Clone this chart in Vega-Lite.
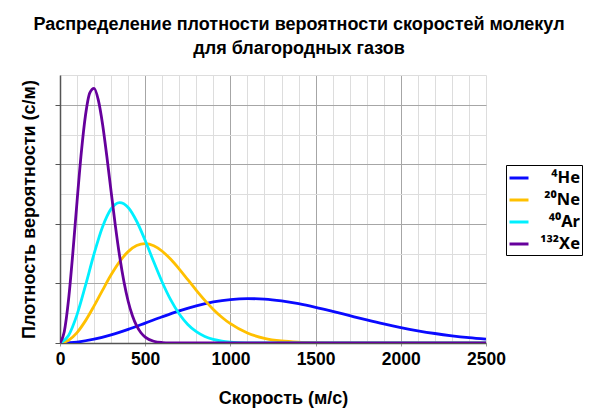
{
  "$schema": "https://vega.github.io/schema/vega-lite/v6.json",
  "autosize": {"type": "none"},
  "padding": {"left": 60, "top": 75, "right": 114, "bottom": 73},
  "width": 426,
  "height": 268,
  "title": {
    "text": ["Распределение плотности вероятности скоростей молекул", "для благородных газов"],
    "fontSize": 18,
    "fontWeight": "bold",
    "color": "black",
    "anchor": "middle",
    "dx": 26,
    "offset": 17,
    "lineHeight": 24
  },
  "config": {"font": "Liberation Sans", "view": {"stroke": null}},
  "data": {
    "values": [
      {"gas": "⁴He", "v": 0, "f": 0},
      {"gas": "⁴He", "v": 100, "f": 0.0000162},
      {"gas": "⁴He", "v": 200, "f": 0.0000633},
      {"gas": "⁴He", "v": 300, "f": 0.0001369},
      {"gas": "⁴He", "v": 400, "f": 0.0002300},
      {"gas": "⁴He", "v": 500, "f": 0.0003342},
      {"gas": "⁴He", "v": 600, "f": 0.0004404},
      {"gas": "⁴He", "v": 700, "f": 0.0005397},
      {"gas": "⁴He", "v": 800, "f": 0.0006246},
      {"gas": "⁴He", "v": 900, "f": 0.0006892},
      {"gas": "⁴He", "v": 1000, "f": 0.0007299},
      {"gas": "⁴He", "v": 1100, "f": 0.0007455},
      {"gas": "⁴He", "v": 1200, "f": 0.0007370},
      {"gas": "⁴He", "v": 1300, "f": 0.0007070},
      {"gas": "⁴He", "v": 1400, "f": 0.0006594},
      {"gas": "⁴He", "v": 1500, "f": 0.0005990},
      {"gas": "⁴He", "v": 1600, "f": 0.0005308},
      {"gas": "⁴He", "v": 1700, "f": 0.0004591},
      {"gas": "⁴He", "v": 1800, "f": 0.0003881},
      {"gas": "⁴He", "v": 1900, "f": 0.0003208},
      {"gas": "⁴He", "v": 2000, "f": 0.0002595},
      {"gas": "⁴He", "v": 2100, "f": 0.0002055},
      {"gas": "⁴He", "v": 2200, "f": 0.0001594},
      {"gas": "⁴He", "v": 2300, "f": 0.0001212},
      {"gas": "⁴He", "v": 2400, "f": 0.0000903},
      {"gas": "⁴He", "v": 2500, "f": 0.0000660},
      {"gas": "²⁰Ne", "v": 0, "f": 0},
      {"gas": "²⁰Ne", "v": 50, "f": 0.0000453},
      {"gas": "²⁰Ne", "v": 100, "f": 0.0001756},
      {"gas": "²⁰Ne", "v": 150, "f": 0.0003757},
      {"gas": "²⁰Ne", "v": 200, "f": 0.0006224},
      {"gas": "²⁰Ne", "v": 250, "f": 0.0008881},
      {"gas": "²⁰Ne", "v": 300, "f": 0.0011446},
      {"gas": "²⁰Ne", "v": 350, "f": 0.0013665},
      {"gas": "²⁰Ne", "v": 400, "f": 0.0015342},
      {"gas": "²⁰Ne", "v": 450, "f": 0.0016358},
      {"gas": "²⁰Ne", "v": 500, "f": 0.0016674},
      {"gas": "²⁰Ne", "v": 550, "f": 0.0016325},
      {"gas": "²⁰Ne", "v": 600, "f": 0.0015406},
      {"gas": "²⁰Ne", "v": 650, "f": 0.0014051},
      {"gas": "²⁰Ne", "v": 700, "f": 0.0012412},
      {"gas": "²⁰Ne", "v": 750, "f": 0.0010635},
      {"gas": "²⁰Ne", "v": 800, "f": 0.0008852},
      {"gas": "²⁰Ne", "v": 850, "f": 0.0007164},
      {"gas": "²⁰Ne", "v": 900, "f": 0.0005643},
      {"gas": "²⁰Ne", "v": 950, "f": 0.0004330},
      {"gas": "²⁰Ne", "v": 1000, "f": 0.0003237},
      {"gas": "²⁰Ne", "v": 1100, "f": 0.0001679},
      {"gas": "²⁰Ne", "v": 1200, "f": 0.0000790},
      {"gas": "²⁰Ne", "v": 1300, "f": 0.0000338},
      {"gas": "²⁰Ne", "v": 1400, "f": 0.0000132},
      {"gas": "²⁰Ne", "v": 1500, "f": 0.0000047},
      {"gas": "²⁰Ne", "v": 1600, "f": 0.0000015},
      {"gas": "²⁰Ne", "v": 1800, "f": 0.0000001},
      {"gas": "²⁰Ne", "v": 2000, "f": 0},
      {"gas": "²⁰Ne", "v": 2500, "f": 0},
      {"gas": "⁴⁰Ar", "v": 0, "f": 0},
      {"gas": "⁴⁰Ar", "v": 50, "f": 0.0001267},
      {"gas": "⁴⁰Ar", "v": 100, "f": 0.0004771},
      {"gas": "⁴⁰Ar", "v": 150, "f": 0.0009704},
      {"gas": "⁴⁰Ar", "v": 200, "f": 0.0014981},
      {"gas": "⁴⁰Ar", "v": 250, "f": 0.0019522},
      {"gas": "⁴⁰Ar", "v": 300, "f": 0.0022518},
      {"gas": "⁴⁰Ar", "v": 350, "f": 0.0023580},
      {"gas": "⁴⁰Ar", "v": 400, "f": 0.0022758},
      {"gas": "⁴⁰Ar", "v": 450, "f": 0.0020443},
      {"gas": "⁴⁰Ar", "v": 500, "f": 0.0017204},
      {"gas": "⁴⁰Ar", "v": 550, "f": 0.0013629},
      {"gas": "⁴⁰Ar", "v": 600, "f": 0.0010199},
      {"gas": "⁴⁰Ar", "v": 650, "f": 0.0007229},
      {"gas": "⁴⁰Ar", "v": 700, "f": 0.0004864},
      {"gas": "⁴⁰Ar", "v": 750, "f": 0.0003111},
      {"gas": "⁴⁰Ar", "v": 800, "f": 0.0001894},
      {"gas": "⁴⁰Ar", "v": 850, "f": 0.0001099},
      {"gas": "⁴⁰Ar", "v": 900, "f": 0.0000608},
      {"gas": "⁴⁰Ar", "v": 950, "f": 0.0000321},
      {"gas": "⁴⁰Ar", "v": 1000, "f": 0.0000162},
      {"gas": "⁴⁰Ar", "v": 1100, "f": 0.0000036},
      {"gas": "⁴⁰Ar", "v": 1200, "f": 0.0000007},
      {"gas": "⁴⁰Ar", "v": 1400, "f": 0},
      {"gas": "⁴⁰Ar", "v": 2500, "f": 0},
      {"gas": "¹³²Xe", "v": 0, "f": 0},
      {"gas": "¹³²Xe", "v": 25, "f": 0.0001906},
      {"gas": "¹³²Xe", "v": 50, "f": 0.0007252},
      {"gas": "¹³²Xe", "v": 75, "f": 0.0015014},
      {"gas": "¹³²Xe", "v": 100, "f": 0.0023757},
      {"gas": "¹³²Xe", "v": 125, "f": 0.0031957},
      {"gas": "¹³²Xe", "v": 150, "f": 0.0038321},
      {"gas": "¹³²Xe", "v": 175, "f": 0.0042013},
      {"gas": "¹³²Xe", "v": 200, "f": 0.0042752},
      {"gas": "¹³²Xe", "v": 225, "f": 0.0040777},
      {"gas": "¹³²Xe", "v": 250, "f": 0.0036696},
      {"gas": "¹³²Xe", "v": 275, "f": 0.0031308},
      {"gas": "¹³²Xe", "v": 300, "f": 0.0025411},
      {"gas": "¹³²Xe", "v": 325, "f": 0.0019673},
      {"gas": "¹³²Xe", "v": 350, "f": 0.0014559},
      {"gas": "¹³²Xe", "v": 375, "f": 0.0010315},
      {"gas": "¹³²Xe", "v": 400, "f": 0.0007006},
      {"gas": "¹³²Xe", "v": 425, "f": 0.0004568},
      {"gas": "¹³²Xe", "v": 450, "f": 0.0002860},
      {"gas": "¹³²Xe", "v": 475, "f": 0.0001722},
      {"gas": "¹³²Xe", "v": 500, "f": 0.0000997},
      {"gas": "¹³²Xe", "v": 550, "f": 0.0000298},
      {"gas": "¹³²Xe", "v": 600, "f": 0.0000077},
      {"gas": "¹³²Xe", "v": 650, "f": 0.0000017},
      {"gas": "¹³²Xe", "v": 700, "f": 0.0000003},
      {"gas": "¹³²Xe", "v": 800, "f": 0},
      {"gas": "¹³²Xe", "v": 2500, "f": 0}
    ]
  },
  "mark": {"type": "line", "interpolate": "monotone", "strokeWidth": 2.8, "clip": true},
  "encoding": {
    "x": {
      "field": "v",
      "type": "quantitative",
      "scale": {"domain": [0, 2500], "nice": false},
      "axis": {
        "values": [0, 100, 200, 300, 400, 500, 600, 700, 800, 900, 1000, 1100, 1200, 1300, 1400, 1500, 1600, 1700, 1800, 1900, 2000, 2100, 2200, 2300, 2400, 2500],
        "labelExpr": "datum.value % 500 === 0 ? datum.label : ''",
        "format": "d",
        "labelFontSize": 17.5,
        "labelFontWeight": "bold",
        "labelColor": "black",
        "labelPadding": 4,
        "labelFlush": false,
        "labelOverlap": false,
        "tickSize": 3,
        "tickColor": {"condition": {"test": "datum.value % 500 === 0", "value": "#999999"}, "value": "transparent"},
        "grid": true,
        "gridColor": {"condition": {"test": "datum.value % 500 === 0 && datum.value > 0 && datum.value < 2500", "value": "#a6a6a6"}, "value": "#dddddd"},
        "domainColor": "#555555",
        "domainWidth": 1.5,
        "title": "Скорость (м/с)",
        "titleFontSize": 18,
        "titleFontWeight": "bold",
        "titleColor": "black",
        "titleX": 223,
        "titleY": 60,
        "titleBaseline": "alphabetic"
      }
    },
    "y": {
      "field": "f",
      "type": "quantitative",
      "scale": {"domain": [0, 0.0045], "nice": false},
      "axis": {
        "values": [0, 0.0005, 0.001, 0.0015, 0.002, 0.0025, 0.003, 0.0035, 0.004, 0.0045],
        "labels": false,
        "tickSize": 5,
        "tickColor": {"condition": {"test": "round(datum.value * 10000) % 10 === 0", "value": "#555555"}, "value": "transparent"},
        "grid": true,
        "gridColor": {"condition": {"test": "round(datum.value * 10000) % 10 === 0 && datum.value > 0", "value": "#a6a6a6"}, "value": "#dddddd"},
        "domainColor": "#555555",
        "domainWidth": 1.5,
        "title": "Плотность вероятности (с/м)",
        "titleFontSize": 18,
        "titleFontWeight": "bold",
        "titleColor": "black",
        "titlePadding": 16
      }
    },
    "color": {
      "field": "gas",
      "type": "nominal",
      "sort": null,
      "scale": {"domain": ["⁴He", "²⁰Ne", "⁴⁰Ar", "¹³²Xe"], "range": ["#0a0aff", "#ffc000", "#00f0ff", "#66009c"]},
      "legend": {
        "title": null,
        "orient": "none",
        "legendX": 446,
        "legendY": 90,
        "strokeColor": "black",
        "fillColor": "white",
        "padding": 2,
        "symbolType": "stroke",
        "symbolSize": 361,
        "symbolStrokeWidth": 3,
        "labelFont": "Noto Sans",
        "labelFontSize": 16.5,
        "labelFontWeight": "bold",
        "labelColor": "black",
        "labelAlign": "right",
        "labelOffset": 50,
        "rowPadding": 2
      }
    }
  }
}
